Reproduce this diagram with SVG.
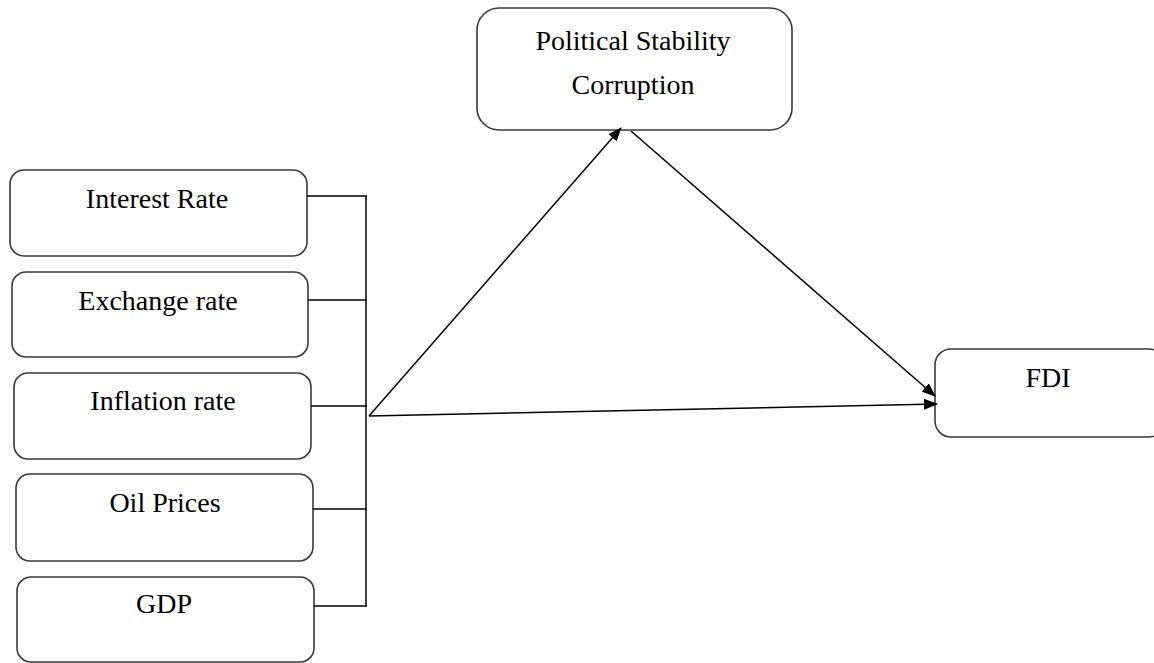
<svg xmlns="http://www.w3.org/2000/svg" width="1154" height="663" viewBox="0 0 1154 663">
<style>
.box{fill:#fff;stroke:#3a3a3a;stroke-width:1.6}
.lbl{font-family:"Liberation Serif","Times New Roman",serif;font-size:28px;fill:#000;text-anchor:middle}
.ln{stroke:#000;stroke-width:1.5;fill:none}
</style>
<defs>
<marker id="ah" viewBox="0 0 14 11" refX="13" refY="5.5" markerWidth="14" markerHeight="11" markerUnits="userSpaceOnUse" orient="auto">
<path d="M0,0 L14,5.5 L0,11 z" fill="#000"/>
</marker>
</defs>
<rect width="1154" height="663" fill="#fff"/>
<g id="interest"><rect class="box" x="10" y="170" width="297" height="86" rx="14"/><text class="lbl" x="157" y="208">Interest Rate</text></g>
<g id="exchange"><rect class="box" x="12" y="272" width="296" height="85" rx="14"/><text class="lbl" x="158" y="310">Exchange rate</text></g>
<g id="inflation"><rect class="box" x="14" y="373" width="297" height="86" rx="14"/><text class="lbl" x="163" y="410">Inflation rate</text></g>
<g id="oil"><rect class="box" x="16" y="474" width="297" height="87" rx="14"/><text class="lbl" x="165" y="512">Oil Prices</text></g>
<g id="gdp"><rect class="box" x="17" y="577" width="297" height="85" rx="14"/><text class="lbl" x="164" y="613">GDP</text></g>
<g id="political"><rect class="box" x="477" y="8" width="315" height="122" rx="22"/><text class="lbl" x="633" y="50">Political Stability</text><text class="lbl" x="633" y="94">Corruption</text></g>
<g id="fdi"><rect class="box" x="935" y="349" width="230" height="88" rx="16"/><text class="lbl" x="1048" y="387">FDI</text></g>
<g id="connectors">
<path class="ln" d="M307,196 H367 M308,300 H367 M311,406 H367 M313,509 H367 M314,606 H367 M366,196 V606"/>
<line class="ln" x1="369" y1="416" x2="621" y2="128" marker-end="url(#ah)"/>
<line class="ln" x1="369" y1="416" x2="937" y2="404" marker-end="url(#ah)"/>
<line class="ln" x1="631" y1="131" x2="935" y2="396" marker-end="url(#ah)"/>
</g>
</svg>
